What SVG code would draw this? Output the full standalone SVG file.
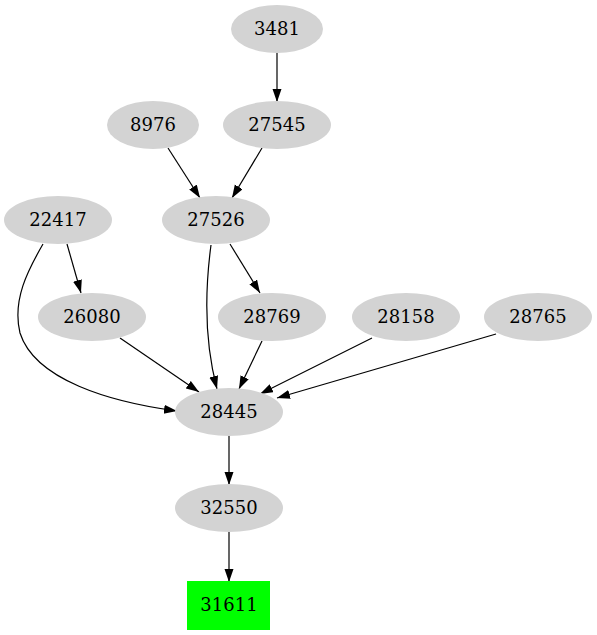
<svg xmlns="http://www.w3.org/2000/svg" width="597" height="635" viewBox="0 0 597 635">
<style>
.n ellipse{fill:#d3d3d3;stroke:none}
text{font-family:"DejaVu Serif","Liberation Serif",serif;font-size:18px;text-anchor:middle;fill:#000}
.e path{fill:none;stroke:#000;stroke-width:1.2}
</style>
<defs>
<marker id="a" markerUnits="userSpaceOnUse" markerWidth="14" markerHeight="10" refX="13" refY="4.5" orient="auto">
<path d="M0,0 L13,4.5 L0,9 Z" fill="#000"/>
</marker>
</defs>
<rect width="597" height="635" fill="#fff"/>
<g class="e" id="edges">
<path d="M277,52 L277,102" marker-end="url(#a)"/>
<path d="M168,148 L200,198" marker-end="url(#a)"/>
<path d="M262,148 L232,198" marker-end="url(#a)"/>
<path d="M67,244 L81,293" marker-end="url(#a)"/>
<path d="M43,244 C28,270 12,300 20,333 C35,380 110,402 177,411" marker-end="url(#a)"/>
<path d="M230,244 L260,293" marker-end="url(#a)"/>
<path d="M211,245 C205,290 204,340 217,389" marker-end="url(#a)"/>
<path d="M120,338 L199,392" marker-end="url(#a)"/>
<path d="M262,341 L239,389" marker-end="url(#a)"/>
<path d="M372,338 L260,394" marker-end="url(#a)"/>
<path d="M496,334 L277,398" marker-end="url(#a)"/>
<path d="M229,436 L229,485" marker-end="url(#a)"/>
<path d="M229,532 L229,582" marker-end="url(#a)"/>
</g>
<g class="n" id="n3481"><ellipse cx="277" cy="29" rx="46" ry="24"/><text x="277" y="35">3481</text></g>
<g class="n" id="n27545"><ellipse cx="277" cy="125" rx="54" ry="24"/><text x="277" y="131">27545</text></g>
<g class="n" id="n8976"><ellipse cx="153" cy="125" rx="46" ry="24"/><text x="153" y="131">8976</text></g>
<g class="n" id="n27526"><ellipse cx="216" cy="220" rx="54" ry="24"/><text x="216" y="226">27526</text></g>
<g class="n" id="n22417"><ellipse cx="58" cy="220" rx="54" ry="24"/><text x="58" y="226">22417</text></g>
<g class="n" id="n26080"><ellipse cx="92" cy="317" rx="54" ry="24"/><text x="92" y="323">26080</text></g>
<g class="n" id="n28769"><ellipse cx="272" cy="317" rx="54" ry="24"/><text x="272" y="323">28769</text></g>
<g class="n" id="n28158"><ellipse cx="406" cy="317" rx="54" ry="24"/><text x="406" y="323">28158</text></g>
<g class="n" id="n28765"><ellipse cx="538" cy="317" rx="54" ry="24"/><text x="538" y="323">28765</text></g>
<g class="n" id="n28445"><ellipse cx="229" cy="412" rx="54" ry="24"/><text x="229" y="418">28445</text></g>
<g class="n" id="n32550"><ellipse cx="229" cy="508" rx="54" ry="24"/><text x="229" y="514">32550</text></g>
<g class="n" id="n31611"><rect x="187" y="581" width="83" height="49" fill="#00ff00"/><text x="229" y="611">31611</text></g>
</svg>
